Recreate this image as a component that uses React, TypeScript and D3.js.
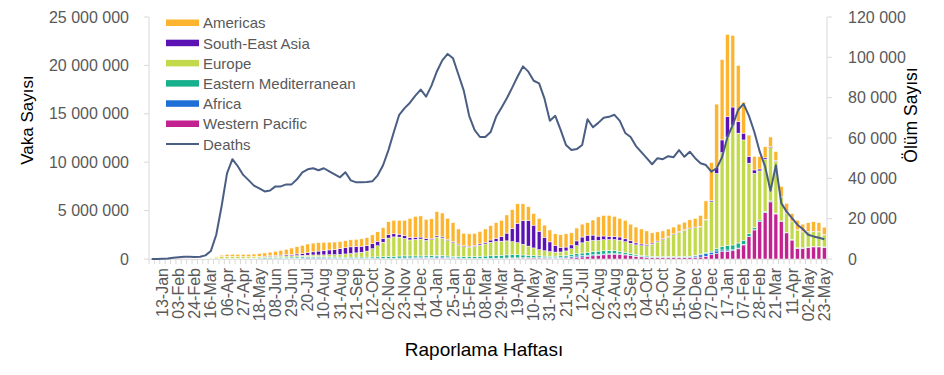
import React from 'react';
import * as d3 from 'd3';

// Week start dates (categories)
const weekStarts: string[] = [
  "2019-12-30",
  "2020-01-06","2020-01-13","2020-01-20","2020-01-27",
  "2020-02-03","2020-02-10","2020-02-17","2020-02-24",
  "2020-03-02","2020-03-09","2020-03-16","2020-03-23","2020-03-30",
  "2020-04-06","2020-04-13","2020-04-20","2020-04-27",
  "2020-05-04","2020-05-11","2020-05-18","2020-05-25",
  "2020-06-01","2020-06-08","2020-06-15","2020-06-22","2020-06-29",
  "2020-07-06","2020-07-13","2020-07-20","2020-07-27",
  "2020-08-03","2020-08-10","2020-08-17","2020-08-24","2020-08-31",
  "2020-09-07","2020-09-14","2020-09-21","2020-09-28",
  "2020-10-05","2020-10-12","2020-10-19","2020-10-26",
  "2020-11-02","2020-11-09","2020-11-16","2020-11-23","2020-11-30",
  "2020-12-07","2020-12-14","2020-12-21","2020-12-28",
  "2021-01-04","2021-01-11","2021-01-18","2021-01-25",
  "2021-02-01","2021-02-08","2021-02-15","2021-02-22",
  "2021-03-01","2021-03-08","2021-03-15","2021-03-22","2021-03-29",
  "2021-04-05","2021-04-12","2021-04-19","2021-04-26",
  "2021-05-03","2021-05-10","2021-05-17","2021-05-24","2021-05-31",
  "2021-06-07","2021-06-14","2021-06-21","2021-06-28",
  "2021-07-05","2021-07-12","2021-07-19","2021-07-26",
  "2021-08-02","2021-08-09","2021-08-16","2021-08-23","2021-08-30",
  "2021-09-06","2021-09-13","2021-09-20","2021-09-27",
  "2021-10-04","2021-10-11","2021-10-18","2021-10-25",
  "2021-11-01","2021-11-08","2021-11-15","2021-11-22","2021-11-29",
  "2021-12-06","2021-12-13","2021-12-20","2021-12-27",
  "2022-01-03","2022-01-10","2022-01-17","2022-01-24","2022-01-31",
  "2022-02-07","2022-02-14","2022-02-21","2022-02-28",
  "2022-03-07","2022-03-14","2022-03-21","2022-03-28",
  "2022-04-04","2022-04-11","2022-04-18","2022-04-25",
  "2022-05-02","2022-05-09","2022-05-16","2022-05-23",
];

// Weekly cases by WHO region (thousands)
const westernPacific: number[] = [
  0, 0, 0.3, 2, 12, 25, 20, 12, 5, 4, 3, 3,
  5, 8, 9, 8, 6, 4, 4, 4, 4, 4, 5, 6,
  7, 9, 11, 14, 20, 30, 40, 45, 50, 50, 45, 40,
  35, 35, 35, 35, 32, 30, 30, 30, 35, 40, 45, 50,
  55, 65, 70, 70, 70, 85, 85, 75, 60, 50, 35, 30,
  30, 35, 40, 45, 50, 55, 70, 80, 85, 90, 95, 100,
  100, 95, 85, 75, 75, 85, 110, 150, 210, 260, 330, 380,
  430, 480, 500, 480, 420, 350, 280, 220, 180, 160, 150, 150,
  160, 170, 170, 160, 150, 160, 200, 280, 450, 600, 750, 800,
  850, 1050, 1450, 2300, 3000, 3850, 4800, 5900, 4650, 3850, 2700, 1960,
  1100, 1100, 1200, 1250, 1250, 1200,
];
const africa: number[] = [
  0, 0, 0, 0, 0, 0, 0, 0, 0, 0, 0, 0.5,
  1, 2, 3, 4, 6, 8, 10, 13, 16, 20, 25, 32,
  40, 50, 60, 75, 90, 100, 105, 95, 80, 70, 60, 50,
  45, 40, 35, 35, 35, 40, 40, 45, 45, 45, 50, 50,
  55, 65, 75, 95, 115, 130, 120, 95, 75, 60, 45, 40,
  35, 35, 35, 35, 35, 35, 35, 35, 35, 35, 35, 35,
  40, 45, 55, 70, 90, 120, 150, 160, 150, 130, 110, 95,
  85, 75, 65, 55, 45, 40, 35, 30, 25, 22, 20, 20,
  20, 20, 20, 30, 60, 150, 230, 270, 250, 230, 180, 130,
  100, 80, 60, 40, 30, 25, 20, 20, 20, 20, 18, 15,
  15, 15, 15, 15, 18, 20,
];
const easternMediterranean: number[] = [
  0, 0, 0, 0, 0, 0, 0, 0, 0.5, 2, 4, 6,
  10, 20, 30, 35, 40, 50, 60, 75, 90, 105, 120, 130,
  140, 135, 130, 125, 120, 115, 110, 105, 100, 100, 100, 105,
  110, 120, 125, 130, 130, 140, 150, 160, 180, 200, 215, 220,
  210, 190, 170, 160, 160, 160, 150, 140, 140, 140, 150, 160,
  190, 210, 230, 250, 270, 300, 320, 330, 320, 290, 250, 210,
  180, 160, 150, 150, 160, 180, 200, 230, 260, 300, 330, 340,
  330, 310, 290, 260, 220, 190, 150, 130, 110, 100, 90, 85,
  80, 80, 80, 80, 80, 80, 85, 90, 120, 220, 350, 450,
  500, 520, 430, 300, 200, 150, 110, 80, 70, 60, 50, 45,
  40, 35, 30, 30, 30, 30,
];
const europe: number[] = [
  0, 0, 0, 0, 0, 0, 0, 0, 1, 8, 30, 90,
  170, 230, 230, 220, 200, 175, 150, 130, 120, 115, 115, 120,
  125, 130, 135, 140, 145, 155, 165, 175, 195, 225, 245, 280,
  330, 380, 440, 500, 620, 850, 1150, 1500, 1900, 2000, 1950, 1800,
  1650, 1700, 1750, 1600, 1650, 1900, 1800, 1600, 1400, 1200, 1050, 1000,
  1050, 1150, 1250, 1400, 1450, 1450, 1450, 1350, 1250, 1100, 950, 800,
  650, 550, 480, 420, 400, 450, 600, 850, 1050, 1150, 1150, 1100,
  1150, 1150, 1150, 1150, 1100, 1050, 1000, 1000, 1050, 1250, 1500, 1750,
  2000, 2250, 2500, 2700, 2850, 2850, 2800, 3400, 5080, 7800, 9720, 11220,
  12350, 11350, 10360, 7260, 5620, 5075, 5370, 5500, 5360, 2470, 1930, 1830,
  1840, 1650, 1555, 1555, 1505, 1240,
];
const southEastAsia: number[] = [
  0, 0, 0, 0, 0, 0, 0, 0, 0, 0, 0, 0.3,
  1, 2, 4, 8, 12, 15, 22, 30, 40, 50, 65, 80,
  95, 115, 135, 165, 200, 250, 320, 400, 450, 490, 540, 590,
  640, 680, 660, 620, 580, 530, 460, 400, 350, 320, 300, 290,
  260, 230, 200, 170, 150, 135, 125, 115, 105, 100, 95, 100,
  110, 130, 160, 230, 330, 470, 800, 1350, 2000, 2450, 2650, 2350,
  1900, 1400, 1000, 700, 480, 400, 400, 480, 600, 620, 550, 450,
  380, 330, 300, 330, 300, 250, 200, 170, 140, 120, 100, 90,
  80, 75, 70, 65, 60, 60, 60, 70, 150, 600, 1300, 2100,
  1900, 1200, 700, 700, 350, 200, 150, 100, 80, 50, 40, 35,
  30, 30, 30, 30, 30, 30,
];
const americas: number[] = [
  0, 0, 0, 0, 0, 0, 0, 0, 0, 0.1, 2, 8,
  45, 130, 200, 210, 215, 230, 240, 260, 290, 330, 380, 420,
  480, 560, 660, 750, 830, 900, 900, 870, 850, 800, 760, 740,
  730, 730, 740, 760, 820, 900, 980, 1100, 1340, 1395, 1440, 1590,
  1970, 2150, 2185, 2005, 2005, 2490, 2470, 2175, 1970, 1550, 1275, 1270,
  1235, 1290, 1385, 1485, 1615, 1690, 1875, 1955, 2010, 1735, 1420, 1205,
  1330, 1250, 1230, 1185, 1295, 1365, 1240, 1330, 1330, 1290, 1560, 1985,
  2125, 2155, 2095, 1925, 1915, 1720, 1635, 1550, 1395, 1048, 940, 805,
  760, 705, 760, 765, 850, 900, 1125, 1890, 3900, 6550, 8300, 8500,
  7400, 5800, 3200, 2200, 1400, 1300, 1150, 1000, 920, 1050, 1010, 815,
  970, 770, 920, 970, 920, 770,
];
// Weekly deaths
const deaths: number[] = [
  0, 50, 100, 200, 600, 900, 1100, 1100, 1000, 1100, 1800, 4000,
  12000, 26300, 42500, 49500, 46000, 41700, 39100, 36400, 35000, 33500, 34000, 36000,
  36000, 37000, 37000, 39500, 43000, 44500, 45000, 44000, 45000, 43500, 42000, 40500,
  43000, 39000, 38000, 38000, 38200, 38500, 41500, 46500, 54000, 63000, 71500, 74800,
  77500, 81000, 84000, 80500, 86000, 93000, 98500, 101700, 99500, 91500, 83500, 71000,
  64000, 60500, 60500, 63000, 70500, 75000, 79700, 85000, 90500, 95500, 92900, 88400,
  87100, 79500, 68600, 71000, 64000, 56500, 54000, 54500, 56500, 69300, 65300, 67500,
  70000, 70500, 71500, 68500, 62500, 60500, 56000, 53000, 50000, 47000, 50000, 49500,
  51000, 50500, 54000, 50700, 53200, 50000, 47500, 46600, 43300, 45000, 50500, 60500,
  66500, 74000, 76900, 71000, 63000, 53200, 45800, 33800, 46500, 27700, 23500, 20300,
  17000, 14900, 12000, 11200, 10500, 9800,
];

const caseTicks: number[] = [0, 5000000, 10000000, 15000000, 20000000, 25000000];
const deathTicks: number[] = [0, 20000, 40000, 60000, 80000, 100000, 120000];

// stack order bottom -> top
const stackKeys: string[] = ["Western Pacific", "Africa", "Eastern Mediterranean", "Europe", "South-East Asia", "Americas"];
const legendKeys: string[] = ["Americas", "South-East Asia", "Europe", "Eastern Mediterranean", "Africa", "Western Pacific"];
const colors: Record<string, string> = {
  "Americas": "#FDB42E",
  "South-East Asia": "#5B12B4",
  "Europe": "#C3D94C",
  "Eastern Mediterranean": "#17B08C",
  "Africa": "#1D6FD6",
  "Western Pacific": "#C1228F",
};
const deathColor = "#4A5E84";

const fmtSpace = (v: number) => d3.format(",")(v).replace(/,/g, " ");

export default function App() {
  const W = 944, H = 375;
  const left = 149, right = 827, top = 17, bottom = 259;
  const pad = 0.28;
  const x = d3.scaleBand<string>().domain(weekStarts).range([left, right]).paddingInner(pad).paddingOuter(pad / 2);
  const yL = d3.scaleLinear().domain([0, 25000000]).range([bottom, top]);
  const yR = d3.scaleLinear().domain([0, 120000]).range([bottom, top]);

  const series: Record<string, number[]> = {
    "Western Pacific": westernPacific,
    "Africa": africa,
    "Eastern Mediterranean": easternMediterranean,
    "Europe": europe,
    "South-East Asia": southEastAsia,
    "Americas": americas,
  };
  const rows = weekStarts.map((w, i) => {
    const r: any = { week: w };
    stackKeys.forEach(k => { r[k] = series[k][i] * 1000; });
    return r;
  });
  const stacked = d3.stack<any>().keys(stackKeys)(rows);

  const line = d3.line<number>()
    .x((_, i) => (x(weekStarts[i]) as number) + x.bandwidth() / 2)
    .y(d => yR(d));

  const parse = d3.timeParse("%Y-%m-%d");
  const fmt = d3.timeFormat("%d-%b");
  const step = x.step();

  const font = "'Liberation Sans', Arial, sans-serif";
  const grey = "#595959";
  const axisCol = "#D9D9D9";

  return (
    <svg width={W} height={H} style={{ position: 'absolute', left: 0, top: 0, background: '#fff' }} fontFamily={font}>
      {/* axes */}
      <line x1={left} x2={left} y1={top} y2={bottom} stroke={axisCol} strokeWidth={1} />
      <line x1={right} x2={right} y1={top} y2={bottom} stroke={axisCol} strokeWidth={1} />
      <line x1={left} x2={right} y1={bottom + 0.5} y2={bottom + 0.5} stroke={axisCol} strokeWidth={1} />
      {caseTicks.map(t => (
        <g key={'l' + t}>
          <line x1={left - 5} x2={left} y1={yL(t)} y2={yL(t)} stroke={axisCol} />
          <text x={129} y={yL(t)} textAnchor="end" dominantBaseline="central" fontSize={16} fill={grey}>{fmtSpace(t)}</text>
        </g>
      ))}
      {deathTicks.map(t => (
        <g key={'r' + t}>
          <line x1={right} x2={right + 5} y1={yR(t)} y2={yR(t)} stroke={axisCol} />
          <text x={848} y={yR(t)} textAnchor="start" dominantBaseline="central" fontSize={16} fill={grey}>{fmtSpace(t)}</text>
        </g>
      ))}
      {weekStarts.map((w, i) => (
        <line key={'t' + i} x1={left + i * step} x2={left + i * step} y1={bottom} y2={bottom + 5} stroke={axisCol} />
      ))}
      <line x1={right} x2={right} y1={bottom} y2={bottom + 5} stroke={axisCol} />
      {weekStarts.map((w, i) => ((i - 2) % 3 === 0 ? (
        <text key={'xl' + i}
          transform={`translate(${(x(w) as number) + x.bandwidth() / 2},268) rotate(-90)`}
          textAnchor="end" dominantBaseline="central" fontSize={16} fill={grey}>
          {fmt(parse(w) as Date)}
        </text>
      ) : null))}

      {/* bars */}
      {stacked.map(s => (
        <g key={s.key} fill={colors[s.key]}>
          {s.map((d, i) => {
            const h = yL(d[0]) - yL(d[1]);
            if (h <= 0.05) return null;
            return (
              <rect key={i} x={x(weekStarts[i]) as number} width={x.bandwidth()}
                y={yL(d[1])} height={h} stroke="#fff" strokeWidth={0.5} />
            );
          })}
        </g>
      ))}

      {/* deaths line */}
      <path d={line(deaths) || ''} fill="none" stroke={deathColor} strokeWidth={2} strokeLinejoin="round" />

      {/* legend */}
      {legendKeys.map((k, i) => (
        <g key={k}>
          <rect x={166} y={19.5 + i * 20.2} width={33} height={6.5} fill={colors[k]} />
          <text x={203} y={22.8 + i * 20.2} dominantBaseline="central" fontSize={15} fill={grey}>{k}</text>
        </g>
      ))}
      <line x1={166} x2={199} y1={144} y2={144} stroke={deathColor} strokeWidth={2} />
      <text x={203} y={144} dominantBaseline="central" fontSize={15} fill={grey}>Deaths</text>

      {/* axis titles */}
      <text transform="translate(27,120) rotate(-90)" textAnchor="middle" dominantBaseline="central" fontSize={17} fill="#000">Vaka Sayısı</text>
      <text transform="translate(911,115) rotate(-90)" textAnchor="middle" dominantBaseline="central" fontSize={17.5} fill="#000">Ölüm Sayısı</text>
      <text x={484} y={356} textAnchor="middle" fontSize={19} fill="#000">Raporlama Haftası</text>
    </svg>
  );
}
